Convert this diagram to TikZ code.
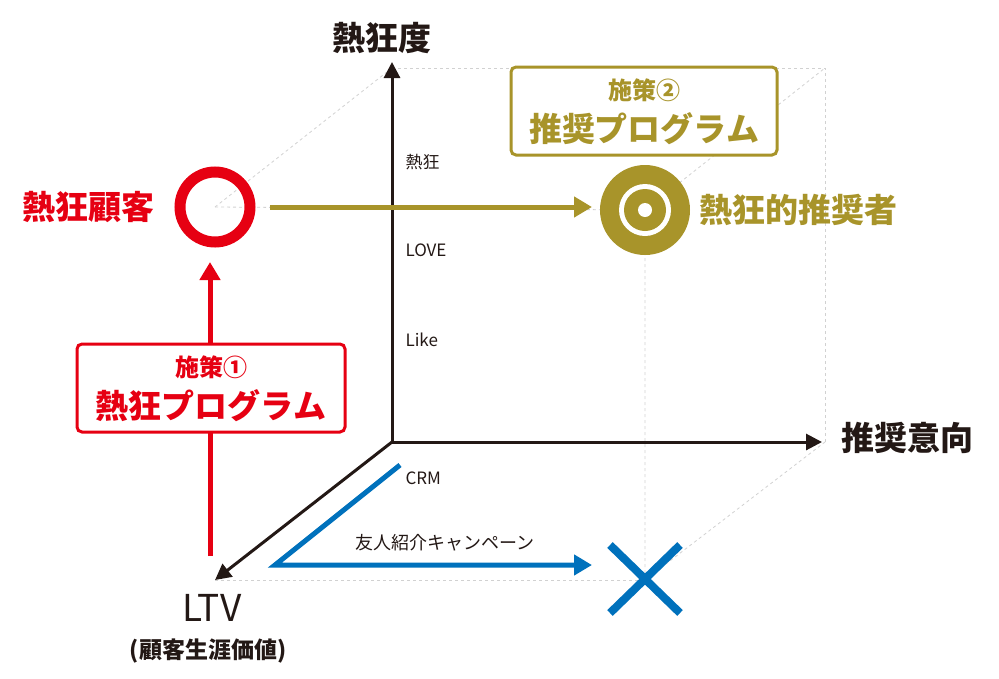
\documentclass[tikz,border=0pt]{standalone}
\usepackage{fontspec}
\setmainfont{Noto Sans CJK JP}
\usetikzlibrary{arrows.meta}
\definecolor{cred}{HTML}{E60012}
\definecolor{colive}{HTML}{A8942A}
\definecolor{cblue}{HTML}{0071BC}
\definecolor{caxis}{HTML}{231815}
\tikzset{
 ax/.style={draw=caxis,line width=3pt,-{Triangle[length=16pt,width=16pt]}},
 guide/.style={draw=black!18,dashed,line width=0.8pt},
 tick/.style={font=\fontsize{17}{17}\selectfont,text=caxis,anchor=west},
 big/.style={font=\bfseries\fontsize{33}{33}\selectfont},
 mid/.style={font=\bfseries\fontsize{24}{24}\selectfont},
 boxr/.style={draw=#1,line width=3pt,rounded corners=5pt,fill=white,align=center,text=#1},
}
\begin{document}
\begin{tikzpicture}[x=1pt,y=-1pt]
\useasboundingbox (0,0) rectangle (999,678);
\coordinate (O) at (392,442);
\coordinate (Ytop) at (392,62);
\coordinate (Xend) at (822,442);
\coordinate (Zend) at (215,580);
\coordinate (A) at (215,207);
\coordinate (B) at (645,210);
\coordinate (C) at (645,580);
\coordinate (D) at (825,68);
\coordinate (E) at (825,442);
\coordinate (F) at (392,68);
% guides
\draw[guide] (F) -- (D) -- (E);
\draw[guide] (A) -- (F);
\draw[guide] (A) -- (B) -- (D);
\draw[guide] (B) -- (C) -- (E);
\draw[guide] (Zend) -- (C);
% axes
\draw[ax] (O) -- (Ytop);
\draw[ax] (O) -- (Xend);
\draw[ax] (O) -- (Zend);
\node[big,text=caxis] (ylab) at (382,38) {熱狂度};
\node[big,text=caxis,anchor=west] (xlab) at (838,438) {推奨意向};
\node[font=\fontsize{37}{37}\selectfont,text=caxis] (zlab) at (212,608) {LTV};
\node[font=\bfseries\fontsize{23}{23}\selectfont,text=caxis] (zlab2) at (208,651) {(顧客生涯価値)};
\node[tick] (t1) at (402,162) {熱狂};
\node[tick] (t2) at (402,250) {LOVE};
\node[tick] (t3) at (402,340) {Like};
\node[tick] (t4) at (402,478) {CRM};
% red
\coordinate (r1) at (210,556);
\coordinate (r2) at (210,262);
\draw[cred,line width=5pt,-{Triangle[length=18pt,width=20pt]}] (r1) -- (r2);
\node[circle,draw=cred,line width=11pt,minimum size=70pt,inner sep=0] (ring) at (A) {};
\node[big,text=cred,anchor=east] (nl) at (158,207) {熱狂顧客};
\node[boxr=cred,minimum width=268pt,minimum height=88pt] (b1) at (211,388) {};
\node[mid,text=cred] (b1a) at (211,367) {施策①};
\node[big,text=cred] (b1b) at (211,406) {熱狂プログラム};
% olive
\coordinate (o1) at (270,207);
\coordinate (o2) at (592,207);
\draw[colive,line width=5pt,-{Triangle[length=18pt,width=20pt]}] (o1) -- (o2);
\fill[colive] (B) circle (45);
\fill[white] (B) circle (26);
\fill[colive] (B) circle (21);
\fill[white] (B) circle (7);
\node[circle,minimum size=90pt] (tgt) at (B) {};
\node[big,text=colive,anchor=west] (nr) at (696,210) {熱狂的推奨者};
\node[boxr=colive,minimum width=266pt,minimum height=88pt] (b2) at (644,111) {};
\node[mid,text=colive] (b2a) at (644,90) {施策②};
\node[big,text=colive] (b2b) at (644,129) {推奨プログラム};
% blue
\coordinate (c1) at (400,465);
\coordinate (c2) at (275,565);
\coordinate (c3) at (592,565);
\draw[cblue,line width=5pt,-{Triangle[length=18pt,width=20pt]}] (c1) -- (c2) -- (c3);
\node[font=\fontsize{18}{18}\selectfont,text=caxis] (cl) at (445,543) {友人紹介キャンペーン};
\draw[cblue,line width=8pt] (610,545) -- (680,613) (680,545) -- (610,613);
\end{tikzpicture}
\end{document}
